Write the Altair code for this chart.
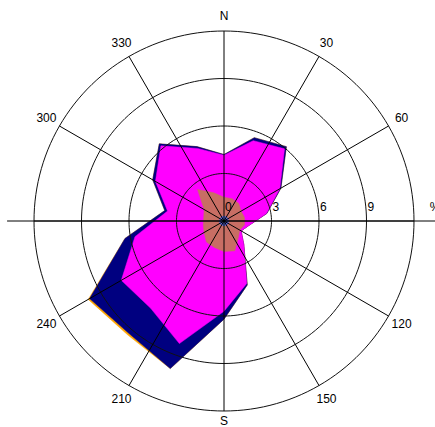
import math
import altair as alt
import pandas as pd

# Wind directions (degrees clockwise from north), one value every 20 degrees
DIRECTIONS = list(range(0, 360, 20))

# Cumulative frequency (%) per speed class, outermost class first
CLASS_ORANGE = [4.2, 5.6, 6.13, 4.15, 2.75, 1.6, 1.25, 1.95, 4.3, 6.2,
                9.92, 9.42, 9.9, 6.35, 3.8, 5.2, 6.36, 5.0]
CLASS_NAVY = [4.2, 5.6, 6.13, 4.15, 2.75, 1.6, 1.25, 1.95, 4.3, 6.2,
              9.92, 9.3, 9.8, 6.35, 3.8, 5.2, 6.36, 5.0]
CLASS_MAGENTA = [4.15, 5.4, 5.95, 4.07, 2.72, 1.6, 1.25, 1.95, 4.2, 5.7,
                 8.24, 7.2, 7.49, 5.71, 3.62, 5.0, 6.2, 4.88]
CLASS_BROWN = [1.5, 1.5, 1.45, 1.25, 1.31, 1.32, 1.15, 1.4, 2.0, 1.93,
               1.78, 1.73, 1.45, 1.33, 1.3, 1.45, 2.6, 1.9]
CLASS_CALM = [0.3] * 18

CLASS_COLORS = ["#FFA500", "#000080", "#FF00FF", "#C86E64", "#5566DD"]
CLASSES = [CLASS_ORANGE, CLASS_NAVY, CLASS_MAGENTA, CLASS_BROWN, CLASS_CALM]

# Grid definition
RINGS = [3, 6, 9, 12]
RING_STEP_DEG = 2
SPOKES = list(range(0, 360, 30))
COMPASS_ANGLES = [0, 30, 60, 120, 150, 180, 210, 240, 300, 330]
COMPASS_TEXT = ["N", "30", "60", "120", "150", "S", "210", "240", "300", "330"]
COMPASS_R = [12.95, 12.95, 12.95, 12.95, 12.95, 12.65, 12.95, 12.95, 12.95, 12.95]
RING_LABELS = [0, 3, 6, 9]
UNIT_LABEL = "%"

R_MAX = 12
FONT = "Liberation Sans"

xs = alt.Scale(domain=[-R_MAX, R_MAX], nice=False, zero=False)
ys = alt.Scale(domain=[-R_MAX, R_MAX], nice=False, zero=False)


def X(f):
    return alt.X(f, type="quantitative", scale=xs, axis=None)


def Y(f):
    return alt.Y(f, type="quantitative", scale=ys, axis=None)


layers = []

# Filled wind-rose polygons, closed by repeating the first direction
for vals, color in zip(CLASSES, CLASS_COLORS):
    df = pd.DataFrame({
        "dir": DIRECTIONS + [DIRECTIONS[0]],
        "r": vals + [vals[0]],
        "k": list(range(len(DIRECTIONS) + 1)),
    })
    poly = (
        alt.Chart(df)
        .transform_calculate(
            px="datum.r * sin(datum.dir * PI / 180)",
            py="datum.r * cos(datum.dir * PI / 180)",
        )
        .mark_line(fill=color, stroke=color, strokeWidth=0.5)
        .encode(x=X("px"), y=Y("py"), order=alt.Order("k:Q"))
    )
    layers.append(poly)

# Concentric rings traced as closed polylines
ring_rows = []
for r in RINGS:
    for k, a in enumerate(range(0, 361, RING_STEP_DEG)):
        ring_rows.append({"ring": r, "a": a, "k": k})
rings = (
    alt.Chart(pd.DataFrame(ring_rows))
    .transform_calculate(
        px="datum.ring * sin(datum.a * PI / 180)",
        py="datum.ring * cos(datum.a * PI / 180)",
    )
    .mark_line(color="#111111", strokeWidth=1)
    .encode(x=X("px"), y=Y("py"), detail="ring:N", order=alt.Order("k:Q"))
)
layers.append(rings)

# Spokes every 30 degrees
spokes = (
    alt.Chart(pd.DataFrame({"a": SPOKES}))
    .transform_calculate(
        x0="0", y0="0",
        x1=f"{R_MAX} * sin(datum.a * PI / 180)",
        y1=f"{R_MAX} * cos(datum.a * PI / 180)",
    )
    .mark_rule(color="#000000", strokeWidth=1)
    .encode(x=X("x0"), y=Y("y0"), x2="x1:Q", y2="y1:Q")
)
layers.append(spokes)

# East-west axis running across the whole figure
ew = (
    alt.Chart(pd.DataFrame({"a": [-13.7], "b": [13.9], "c": [0]}))
    .mark_rule(color="#000000", strokeWidth=1)
    .encode(x=X("a"), x2="b:Q", y=Y("c"))
)
layers.append(ew)

# Compass labels
compass = (
    alt.Chart(pd.DataFrame({"a": COMPASS_ANGLES, "t": COMPASS_TEXT, "lr": COMPASS_R}))
    .transform_calculate(
        lx="datum.lr * sin(datum.a * PI / 180)",
        ly="datum.lr * cos(datum.a * PI / 180)",
    )
    .mark_text(font=FONT, fontSize=12, color="#000000", align="center", baseline="middle")
    .encode(x=X("lx"), y=Y("ly"), text="t:N")
)
layers.append(compass)

# Ring value labels along the east axis
ring_text = (
    alt.Chart(pd.DataFrame({"v": RING_LABELS, "z": [0] * len(RING_LABELS)}))
    .mark_text(font=FONT, fontSize=12, color="#000000", align="left",
               baseline="alphabetic", dx=1, dy=-10)
    .encode(x=X("v"), y=Y("z"), text="v:N")
)
layers.append(ring_text)

unit_text = (
    alt.Chart(pd.DataFrame({"v": [13.0], "z": [0], "t": [UNIT_LABEL]}))
    .mark_text(font=FONT, fontSize=12, color="#000000", align="left",
               baseline="alphabetic", dy=-10)
    .encode(x=X("v"), y=Y("z"), text="t:N")
)
layers.append(unit_text)

chart = (
    alt.layer(*layers)
    .properties(
        width=380,
        height=380,
        autosize=alt.AutoSizeParams(type="none"),
        padding={"left": 34, "top": 31, "right": 21, "bottom": 16},
        background="#FFFFFF",
    )
    .configure_view(strokeWidth=0)
)

chart.save("out.html", embed_options={"renderer": "svg", "actions": False})
